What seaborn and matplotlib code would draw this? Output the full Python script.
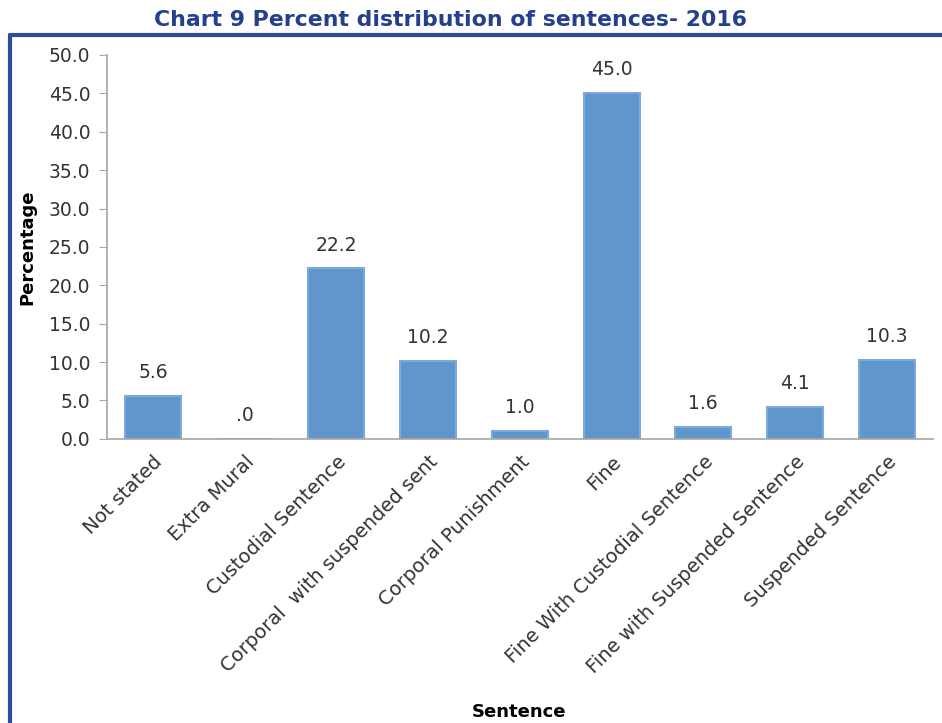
import pandas as pd
import seaborn as sns
import matplotlib.pyplot as plt
from matplotlib.lines import Line2D

sentences = ['Not stated', 'Extra Mural', 'Custodial Sentence',
             'Corporal  with suspended sent', 'Corporal Punishment', 'Fine',
             'Fine With Custodial Sentence', 'Fine with Suspended Sentence',
             'Suspended Sentence']
percent = [5.6, 0.04, 22.2, 10.2, 1.0, 45.0, 1.6, 4.1, 10.3]

df = pd.DataFrame({'Sentence': sentences, 'Percentage': percent})

sns.set_style('white')
plt.rcParams['font.family'] = ['DejaVu Sans']

fig = plt.figure(figsize=(9.42, 7.23), dpi=100)
ax = fig.add_axes([0.1136, 0.393, 0.8764, 0.531])

sns.barplot(x='Sentence', y='Percentage', data=df, ax=ax, color='#6096cc',
            saturation=1, width=0.61, edgecolor='#7eaad9', linewidth=1.5)

for i, v in enumerate(percent):
    lbl = f"{v:.1f}".lstrip('0')
    ax.annotate(lbl, (i, v), xytext=(0, 10), textcoords='offset points',
                ha='center', va='bottom', fontsize=13.5, color='#333333')

ax.set_ylim(0, 50)
ax.set_yticks([0, 5, 10, 15, 20, 25, 30, 35, 40, 45, 50])
ax.set_yticklabels([f"{t:.1f}" for t in ax.get_yticks()], fontsize=13.5, color='#333333')
ax.set_xlim(-0.5, len(sentences) - 0.5)
ax.set_xticks(range(len(sentences)))
ax.set_xticklabels(sentences, rotation=45, ha='right', rotation_mode='anchor',
                   fontsize=14, color='#333333')

for s in ['top', 'right']:
    ax.spines[s].set_visible(False)
for s in ['left', 'bottom']:
    ax.spines[s].set_color('#a6a6a6')
    ax.spines[s].set_linewidth(1.2)
ax.tick_params(axis='y', left=True, length=6, color='#a6a6a6', pad=6)
ax.tick_params(axis='x', bottom=False, pad=6)

ax.set_xlabel('Sentence', fontsize=13, fontweight='bold', color='black')
ax.xaxis.set_label_coords(0.499, -0.688)
ax.set_ylabel('Percentage', fontsize=13, fontweight='bold', color='black')
ax.yaxis.set_label_coords(-0.085, 0.5)

fig.text(0.478, 0.973, 'Chart 9 Percent distribution of sentences- 2016',
         ha='center', va='center', fontsize=15.8, fontweight='bold', color='#253f8f')

border = '#2e4a9a'
fig.add_artist(Line2D([0.0106, 1.0], [0.951, 0.951], color=border, lw=3,
                      transform=fig.transFigure))
fig.add_artist(Line2D([0.0106, 0.0106], [0.0, 0.951], color=border, lw=3,
                      transform=fig.transFigure))

fig.savefig('out.png', dpi=100)
